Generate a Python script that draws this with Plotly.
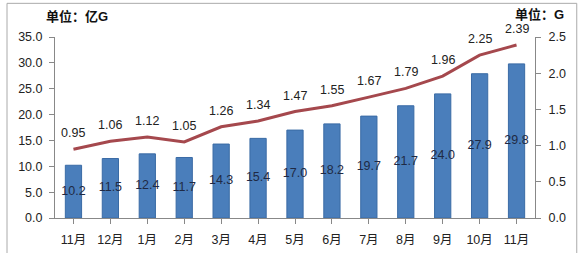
import plotly.graph_objects as go

months = ["11月", "12月", "1月", "2月", "3月", "4月", "5月", "6月", "7月", "8月", "9月", "10月", "11月"]
xpos = list(range(len(months)))
volume = [10.2, 11.5, 12.4, 11.7, 14.3, 15.4, 17.0, 18.2, 19.7, 21.7, 24.0, 27.9, 29.8]
per_user = [0.95, 1.06, 1.12, 1.05, 1.26, 1.34, 1.47, 1.55, 1.67, 1.79, 1.96, 2.25, 2.39]
left_ticks = [0, 5, 10, 15, 20, 25, 30, 35]
right_ticks = [0, 0.5, 1.0, 1.5, 2.0, 2.5]

font = "Liberation Sans, Noto Sans CJK SC, sans-serif"
fig = go.Figure()
fig.add_trace(go.Bar(x=xpos, y=volume, width=0.44,
                     marker=dict(color="#4A7EBB", line=dict(color="#3A6BA5", width=1)),
                     yaxis="y", showlegend=False))
fig.add_trace(go.Scatter(x=xpos, y=[v / 2 for v in volume], mode="text",
                         text=[f"{v:.1f}" for v in volume], cliponaxis=False,
                         textfont=dict(size=12.5, color="#1F2A44", family=font),
                         yaxis="y", showlegend=False))
fig.add_trace(go.Scatter(x=xpos, y=per_user, mode="lines",
                         line=dict(color="#A5484D", width=3), cliponaxis=False,
                         yaxis="y2", showlegend=False))

annotations = [
    dict(x=x, y=v, xref="x", yref="y2", text=f"{v:.2f}", showarrow=False,
         yshift=16, font=dict(size=12.5, color="#222222", family=font))
    for x, v in zip(xpos, per_user)
]
annotations += [
    dict(text="<b>单位：亿G</b>", xref="paper", yref="paper", x=-0.022, y=1.112,
         xanchor="left", yanchor="middle", showarrow=False, font=dict(size=13, color="#111111")),
    dict(text="<b>单位：G</b>", xref="paper", yref="paper", x=1.065, y=1.125,
         xanchor="right", yanchor="middle", showarrow=False, font=dict(size=13, color="#111111")),
]

fig.update_layout(
    width=580, height=253,
    margin=dict(l=55, r=45, t=37, b=35),
    paper_bgcolor="white", plot_bgcolor="white",
    font=dict(family=font, size=12.5, color="#222222"),
    xaxis=dict(tickmode="array", tickvals=xpos, ticktext=months, range=[-0.5, 12.5],
               showline=True, linecolor="#888888", ticks="outside", ticklen=5,
               tickcolor="#888888", tickson="boundaries", showgrid=False, zeroline=False,
               ticklabelstandoff=5, automargin=False),
    yaxis=dict(range=[0, 35], tickvals=left_ticks, ticktext=[f"{t:.1f}" for t in left_ticks],
               showline=True, linecolor="#888888", ticks="outside", ticklen=5,
               tickcolor="#888888", showgrid=False, zeroline=False, ticklabelstandoff=4,
               automargin=False),
    yaxis2=dict(range=[0, 2.5], tickvals=right_ticks, ticktext=[f"{t:.1f}" for t in right_ticks],
                overlaying="y", side="right",
                showline=True, linecolor="#888888", ticks="outside", ticklen=5,
                tickcolor="#888888", showgrid=False, zeroline=False, ticklabelstandoff=5,
                automargin=False),
    annotations=annotations,
    shapes=[dict(type="rect", xref="paper", yref="paper", x0=-0.1, x1=1.087, y0=-0.3, y1=1.186,
                 line=dict(color="#AAAAAA", width=1), fillcolor="rgba(0,0,0,0)", layer="below")],
)
fig.write_html("out.html")
